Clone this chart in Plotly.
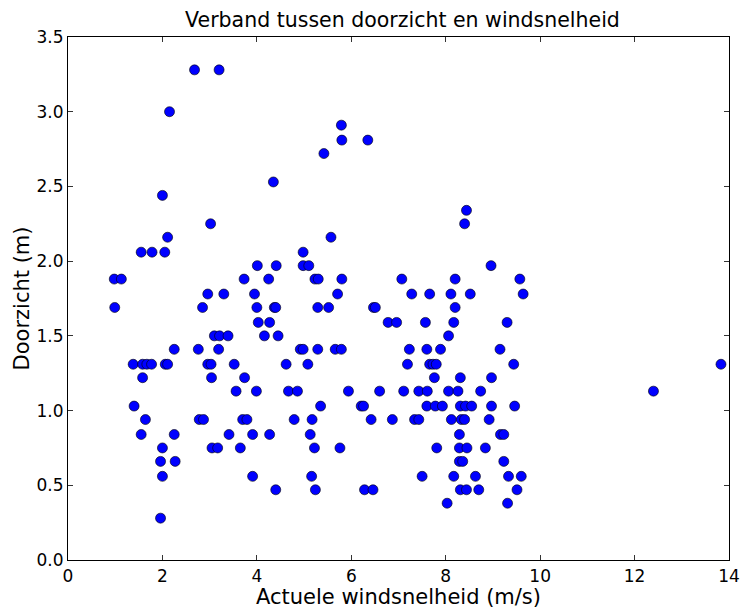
import plotly.graph_objects as go

# windsnelheid (m/s) and doorzicht (m)
wind = [
    2.68, 3.20,
    2.15,
    5.79,
    5.80, 6.35,
    5.42,
    4.35,
    2.00,
    8.44,
    3.02, 8.40,
    2.11, 5.57,
    1.55, 1.78, 2.05, 4.98,
    4.01, 4.41, 4.98, 5.10, 8.96,
    0.98, 1.13, 3.73, 4.25, 5.23, 5.30, 5.80, 7.07, 8.20, 9.57,
    2.96, 3.30, 3.95, 5.71, 7.28, 7.66, 8.11, 8.52, 9.64,
    0.99, 2.85, 4.00, 4.37, 4.40, 5.29, 5.52, 6.47, 6.51, 8.20,
    4.03, 4.27, 6.78, 6.96, 7.57, 8.17, 9.30,
    3.10, 3.21, 3.39, 4.16, 4.45, 8.06,
    2.25, 2.76, 3.19, 4.92, 4.98, 5.29, 5.66, 5.79, 7.23, 7.60, 7.89, 9.15,
    1.38, 1.58, 1.67, 1.77, 2.06, 2.11, 2.96, 3.03, 3.52, 4.62, 5.08, 7.19, 7.66, 7.73, 7.80, 9.44, 13.83,
    1.58, 3.04, 3.74, 7.76, 8.31, 8.97,
    3.56, 3.99, 4.67, 4.86, 5.94, 6.60, 7.11, 7.43, 7.61, 8.06, 8.26, 8.74, 12.40,
    1.40, 5.35, 6.21, 6.26, 7.60, 7.78, 7.93, 8.31, 8.42, 8.55, 8.97, 9.46,
    1.64, 2.78, 2.87, 3.70, 3.79, 4.79, 5.17, 6.42, 6.87, 7.34, 7.43, 8.12, 8.33, 8.40, 8.92,
    1.55, 2.25, 3.41, 3.91, 4.27, 5.13, 8.29, 9.16, 9.23,
    2.00, 3.05, 3.17, 3.65, 5.22, 5.76, 7.81, 8.29, 8.45, 8.84,
    1.96, 2.27, 8.29, 8.36, 9.23,
    2.00, 3.91, 5.16, 7.50, 8.17, 8.63, 9.33, 9.60,
    4.40, 5.24, 6.28, 6.46, 8.31, 8.44, 8.70, 9.51,
    8.03, 9.31,
    1.96,
]

doorzicht = (
    [3.28] * 2 + [3.00] * 1 + [2.91] * 1 + [2.81] * 2 + [2.72] * 1 + [2.53] * 1
    + [2.44] * 1 + [2.34] * 1 + [2.25] * 2 + [2.16] * 2 + [2.06] * 4 + [1.97] * 5
    + [1.88] * 10 + [1.78] * 9 + [1.69] * 10 + [1.59] * 7 + [1.50] * 6
    + [1.41] * 12 + [1.31] * 17 + [1.22] * 6 + [1.13] * 13 + [1.03] * 12
    + [0.94] * 15 + [0.84] * 9 + [0.75] * 10 + [0.66] * 5 + [0.56] * 8
    + [0.47] * 8 + [0.38] * 2 + [0.28] * 1
)

x_ticks = [0, 2, 4, 6, 8, 10, 12, 14]
y_ticks = [0.0, 0.5, 1.0, 1.5, 2.0, 2.5, 3.0, 3.5]

fig = go.Figure()
fig.add_trace(go.Scatter(
    x=wind, y=doorzicht, mode="markers",
    marker=dict(size=10, color="#0000ff", line=dict(color="black", width=0.6)),
    showlegend=False,
))

font_family = "DejaVu Sans"
axis_common = dict(
    showgrid=False, zeroline=False, showline=True, linecolor="black", linewidth=1.2,
    mirror="ticks", ticks="inside", ticklen=5, tickwidth=1, tickcolor="#333333",
    tickfont=dict(family=font_family, size=17, color="black"),
)

fig.update_layout(
    width=752, height=614,
    margin=dict(l=68, r=15, t=37, b=53),
    paper_bgcolor="white", plot_bgcolor="white",
    font=dict(family=font_family, color="black"),
    title=dict(text="Verband tussen doorzicht en windsnelheid",
               font=dict(family=font_family, size=20.5, color="black"),
               x=(68 + 737) / 2 / 752, xanchor="center",
               y=1 - 20 / 614, yanchor="middle", yref="container"),
    xaxis=dict(range=[0, 14], tickvals=x_ticks, ticktext=[str(v) for v in x_ticks],
               title=dict(text="Actuele windsnelheid (m/s)",
                          font=dict(family=font_family, size=21, color="black"),
                          standoff=2),
               **axis_common),
    yaxis=dict(range=[0, 3.5], tickvals=y_ticks, ticktext=[f"{v:.1f}" for v in y_ticks],
               title=dict(text="Doorzicht (m)",
                          font=dict(family=font_family, size=21, color="black"),
                          standoff=1),
               **axis_common),
)

fig.write_html("out.html")
